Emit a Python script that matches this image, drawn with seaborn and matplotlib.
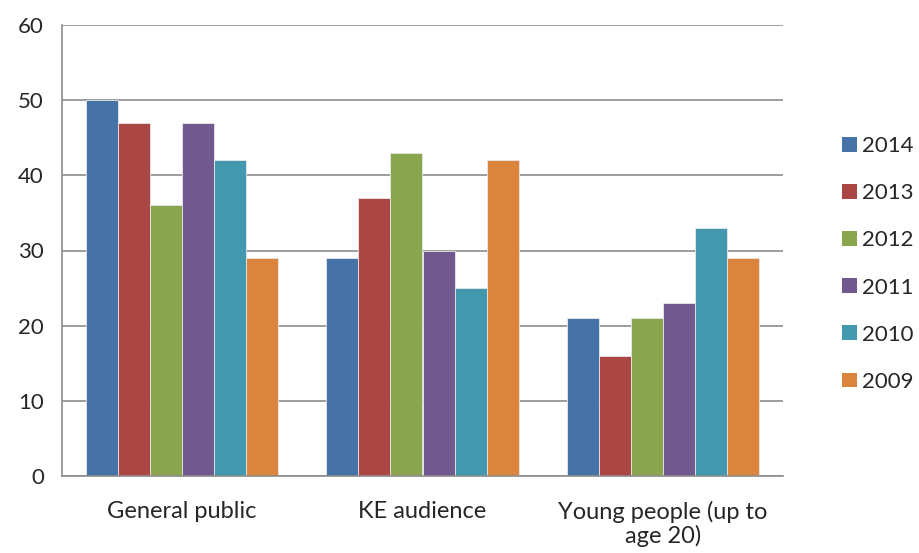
import matplotlib
matplotlib.use("Agg")
import matplotlib.pyplot as plt
import seaborn as sns
import pandas as pd
from matplotlib.patches import Patch

categories = ["General public", "KE audience", "Young people (up to\nage 20)"]
years = ["2014", "2013", "2012", "2011", "2010", "2009"]
v2014 = [50, 29, 21]
v2013 = [47, 37, 16]
v2012 = [36, 43, 21]
v2011 = [47, 30, 23]
v2010 = [42, 25, 33]
v2009 = [29, 42, 29]
colors = ["#4572A7", "#AA4643", "#89A54E", "#71588F", "#4198AF", "#DB843D"]

series = [v2014, v2013, v2012, v2011, v2010, v2009]
rows = []
for y, vals in zip(years, series):
    for c, v in zip(categories, vals):
        rows.append({"category": c, "year": y, "value": v})
df = pd.DataFrame(rows)

sns.set_style("white")
plt.rcParams["font.family"] = ["Lato", "DejaVu Sans"]

fig = plt.figure(figsize=(9.19, 5.53), dpi=100)
ax = fig.add_axes([62/919, 1-476/553, (783-62)/919, (476-25)/553])

sns.barplot(data=df, x="category", y="value", hue="year", hue_order=years,
            order=categories, palette=colors, width=0.8, ax=ax,
            edgecolor="#e8e8e8", linewidth=0.6, legend=False, saturation=1)

ax.set_ylim(0, 60)
ax.set_xlim(-0.5, 2.5)
ax.set_yticks(range(0, 61, 10))
ax.yaxis.grid(True, color="#8c8c8c", linewidth=1.2)
ax.set_axisbelow(True)
ax.set_xlabel("")
ax.set_ylabel("")
for s in ["top", "right"]:
    ax.spines[s].set_visible(False)
for s in ["left", "bottom"]:
    ax.spines[s].set_color("#8c8c8c")
    ax.spines[s].set_linewidth(1.2)

ax.set_xticks([-0.5, 0.5, 1.5, 2.5])
ax.set_xticklabels([])
ax.set_xticks([0, 1, 2], minor=True)
ax.set_xticklabels(categories, minor=True, fontsize=17, linespacing=1.1)
ax.tick_params(axis="x", which="major", length=7, color="#8c8c8c", width=1.2, direction="out")
ax.tick_params(axis="x", which="minor", length=0, pad=18)
ax.tick_params(axis="y", length=7, color="#8c8c8c", width=1.2, labelsize=16, pad=6)

handles = [Patch(facecolor=c, edgecolor="none") for c in colors]
fig.legend(handles, years, loc="center left", bbox_to_anchor=(838/919, 1-264/553),
           frameon=False, fontsize=16, handlelength=0.65, handleheight=0.65,
           handletextpad=0.25, labelspacing=1.22, borderaxespad=0, borderpad=0.2)

fig.savefig("out.png", dpi=100)
